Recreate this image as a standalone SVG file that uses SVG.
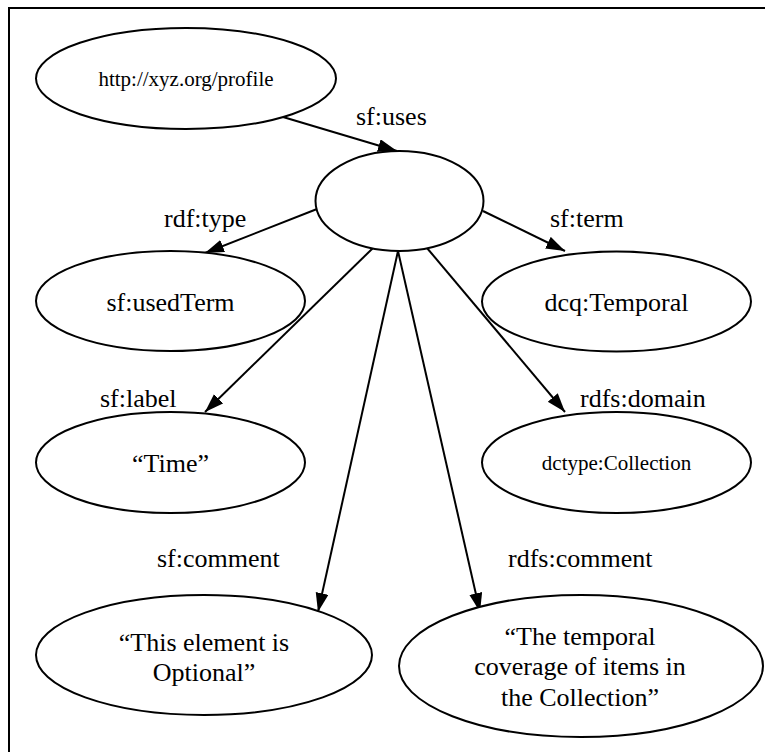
<svg xmlns="http://www.w3.org/2000/svg" width="765" height="752" viewBox="0 0 765 752">
  <style>
    .node ellipse { fill: #ffffff; stroke: #000000; stroke-width: 2; }
    .node text { font-size: 26px; fill: #000000; text-anchor: middle; }
    .node text.small { font-size: 21px; }
    .edge line { stroke: #000000; stroke-width: 2; marker-end: url(#arrow); }
    .edge text { font-size: 26px; fill: #000000; }
  </style>
  <defs>
    <marker id="arrow" markerUnits="userSpaceOnUse" markerWidth="20" markerHeight="14" refX="19" refY="6.5" orient="auto">
      <path d="M0,0 L19,6.5 L0,13 Z" fill="#000000"/>
    </marker>
  </defs>

  <rect width="765" height="752" fill="#ffffff"/>
  <!-- outer frame -->
  <rect x="9" y="8" width="770" height="770" fill="none" stroke="#000000" stroke-width="2"/>

  <g font-family="Liberation Serif, Times New Roman, Tinos, DejaVu Serif, serif">
  <!-- connectors -->
  <g id="edges">
    <g class="edge" id="e-uses">
      <line x1="283" y1="117" x2="397" y2="151"/>
      <text x="356" y="125">sf:uses</text>
    </g>
    <g class="edge" id="e-type">
      <line x1="317" y1="209" x2="205" y2="253"/>
      <text x="164" y="227">rdf:type</text>
    </g>
    <g class="edge" id="e-term">
      <line x1="483" y1="211" x2="565" y2="251"/>
      <text x="550" y="227">sf:term</text>
    </g>
    <g class="edge" id="e-label">
      <line x1="373" y1="248" x2="205" y2="412"/>
      <text x="100" y="407">sf:label</text>
    </g>
    <g class="edge" id="e-domain">
      <line x1="427" y1="248" x2="565" y2="412"/>
      <text x="580" y="407">rdfs:domain</text>
    </g>
    <g class="edge" id="e-comment">
      <line x1="398" y1="251" x2="318" y2="612"/>
      <text x="157" y="567">sf:comment</text>
    </g>
    <g class="edge" id="e-rdfscomment">
      <line x1="398" y1="251" x2="480" y2="612"/>
      <text x="508" y="567">rdfs:comment</text>
    </g>
  </g>

  <!-- nodes -->
  <g class="node" id="profile">
    <ellipse cx="186" cy="78.5" rx="150" ry="50.5"/>
    <text class="small" x="186" y="86">http://xyz.org/profile</text>
  </g>
  <g class="node" id="blank">
    <ellipse cx="399.5" cy="201" rx="84" ry="50"/>
  </g>
  <g class="node" id="usedTerm">
    <ellipse cx="170.5" cy="301" rx="134.5" ry="50"/>
    <text x="170.5" y="311">sf:usedTerm</text>
  </g>
  <g class="node" id="temporal">
    <ellipse cx="616.5" cy="301.5" rx="134.5" ry="50"/>
    <text x="616.5" y="311">dcq:Temporal</text>
  </g>
  <g class="node" id="time">
    <ellipse cx="170.5" cy="462.5" rx="134.5" ry="50.5"/>
    <text x="170.5" y="472">“Time”</text>
  </g>
  <g class="node" id="collection">
    <ellipse cx="616.5" cy="462.5" rx="134.5" ry="50.5"/>
    <text class="small" x="616.5" y="470">dctype:Collection</text>
  </g>
  <g class="node" id="optional">
    <ellipse cx="204" cy="655" rx="168" ry="60"/>
    <text x="204" y="651">“This element is</text>
    <text x="204" y="681">Optional”</text>
  </g>
  <g class="node" id="coverage">
    <ellipse cx="581" cy="666" rx="182" ry="71"/>
    <text x="580" y="645">“The temporal</text>
    <text x="580" y="675">coverage of items in</text>
    <text x="580" y="706">the Collection”</text>
  </g>
  </g>
</svg>
